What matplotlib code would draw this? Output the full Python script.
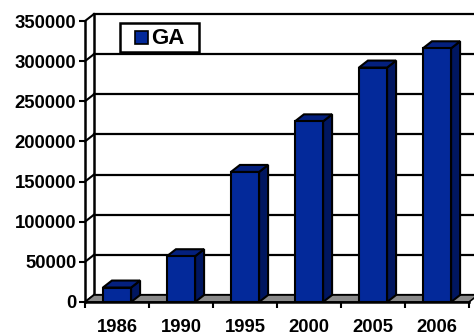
import matplotlib
matplotlib.use("Agg")
import matplotlib.pyplot as plt
from matplotlib.patches import Polygon, Rectangle

plt.rcParams["font.family"] = ["Liberation Sans", "DejaVu Sans"]
plt.rcParams["font.weight"] = "bold"

# -------------------------------------------------------------------
# Data
# -------------------------------------------------------------------
YEARS = ["1986", "1990", "1995", "2000", "2005", "2006"]
GA_VALUES = [18000, 57000, 162000, 225000, 292000, 316000]
Y_TICKS = [0, 50000, 100000, 150000, 200000, 250000, 300000, 350000]
Y_MAX = 350000
SERIES_NAME = "GA"

FRONT = "#03299a"
SIDE = "#001660"
TOP = "#04207e"
FLOOR = "#8a8a8a"
EDGE = "black"

W, H = 474, 336
fig = plt.figure(figsize=(W / 100, H / 100), dpi=100, facecolor="white")
ax = fig.add_axes([85 / W, 1 - 302 / H, 384 / W, 281 / H])
n = len(YEARS)
ax.set_xlim(0, n)
ax.set_ylim(0, Y_MAX)
ax.patch.set_visible(False)

# depth of the fake 3D box, in data units
DX = 9 / 384 * n
DY = 7 / 281 * Y_MAX

# -------------------------------------------------------------------
# Walls and floor
# -------------------------------------------------------------------
for v in Y_TICKS:
    ax.plot([0, DX], [v, v + DY], color=EDGE, lw=1.5, clip_on=False, zorder=1)
    ax.plot([DX, n + 2 * DX], [v + DY, v + DY], color=EDGE, lw=1.6,
            clip_on=False, zorder=1)
ax.plot([DX, DX], [DY, Y_MAX + DY], color=EDGE, lw=1.8, clip_on=False, zorder=1)

floor = Polygon([(0, 0), (n, 0), (n + DX, DY), (DX, DY)], closed=True,
                facecolor=FLOOR, edgecolor=EDGE, lw=1.2, clip_on=False, zorder=2)
ax.add_patch(floor)

# -------------------------------------------------------------------
# Bars
# -------------------------------------------------------------------
centers = [i + 0.5 for i in range(n)]
bar_w = 0.44
ax.bar(centers, GA_VALUES, width=bar_w, color=FRONT, edgecolor=EDGE,
       linewidth=1.5, zorder=4)
for c, v in zip(centers, GA_VALUES):
    left, right = c - bar_w / 2, c + bar_w / 2
    side = Polygon([(right, 0), (right + DX, DY), (right + DX, v + DY), (right, v)],
                   closed=True, facecolor=SIDE, edgecolor=EDGE, lw=1.5,
                   clip_on=False, zorder=3)
    top = Polygon([(left, v), (right, v), (right + DX, v + DY), (left + DX, v + DY)],
                  closed=True, facecolor=TOP, edgecolor=EDGE, lw=1.5,
                  clip_on=False, zorder=3)
    ax.add_patch(side)
    ax.add_patch(top)

# -------------------------------------------------------------------
# Axes
# -------------------------------------------------------------------
for s in ["top", "right"]:
    ax.spines[s].set_visible(False)
for s in ["left", "bottom"]:
    ax.spines[s].set_linewidth(1.8)
    ax.spines[s].set_zorder(5)

ax.set_yticks(Y_TICKS)
ax.set_yticklabels([str(t) for t in Y_TICKS], fontsize=13.3, fontweight="bold")
ax.tick_params(axis="y", direction="out", length=4.3, width=1.5, pad=2)

ax.set_xticks(centers)
ax.set_xticklabels(YEARS, fontsize=13.3, fontweight="bold")
ax.set_xticks(range(n + 1), minor=True)
ax.tick_params(axis="x", which="major", length=0, pad=12.5)
ax.tick_params(axis="x", which="minor", direction="out", length=4.3, width=1.5)

# -------------------------------------------------------------------
# Legend box (drawn by hand so the padding can be set freely)
# -------------------------------------------------------------------
def px(x, y):
    return x / W, 1 - y / H

fig.patches.append(Rectangle(px(120, 52), 79 / W, 29 / H, transform=fig.transFigure,
                             facecolor="white", edgecolor=EDGE, lw=1.8, zorder=10))
fig.patches.append(Rectangle(px(135, 44), 13 / W, 13 / H, transform=fig.transFigure,
                             facecolor=FRONT, edgecolor=EDGE, lw=1.2, zorder=11))
fig.text(*px(151, 38.5), SERIES_NAME, fontsize=16, fontweight="bold",
         ha="left", va="center", zorder=12)

fig.savefig("out.png", dpi=100, facecolor="white")
